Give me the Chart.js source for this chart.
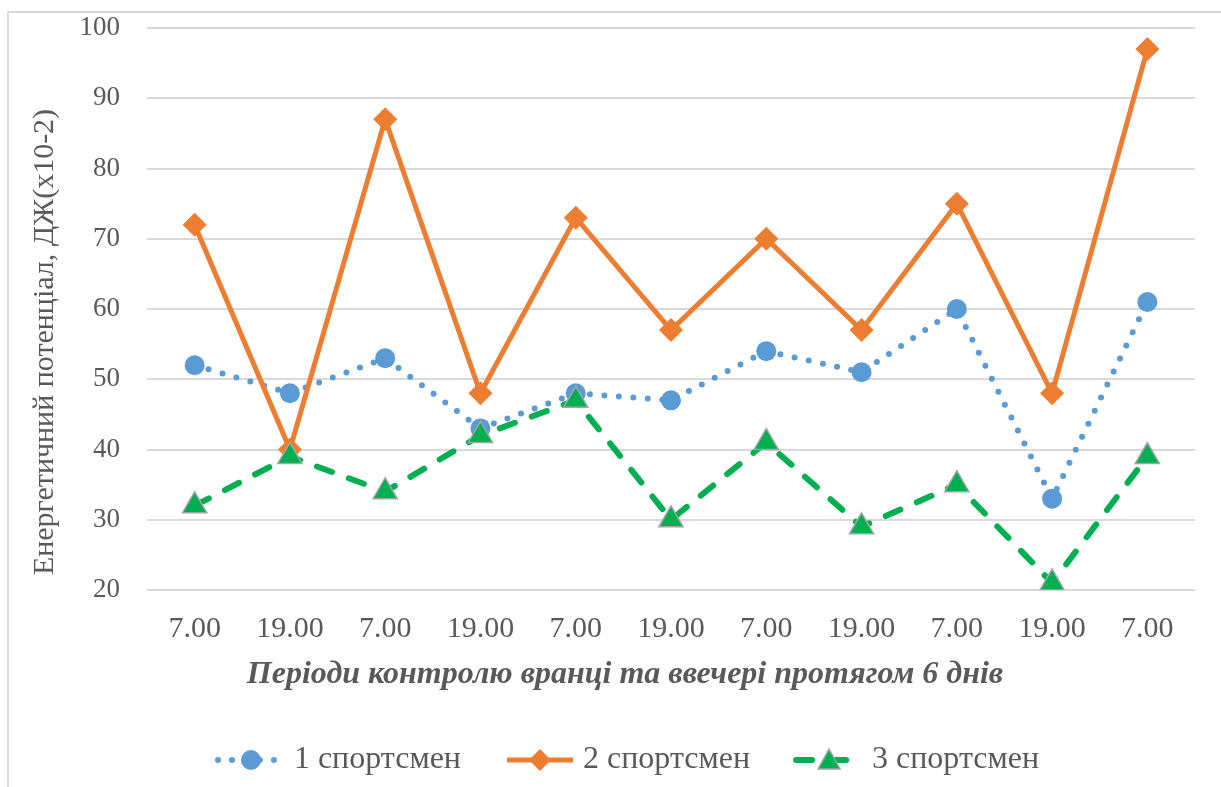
<!DOCTYPE html>
<html>
<head>
<meta charset="utf-8">
<script src="https://cdn.jsdelivr.net/npm/chart.js@4"></script>
<style>
  html, body { margin: 0; padding: 0; background: #fff; overflow: hidden; }
  #frame { position: absolute; left: 7px; top: 11px; width: 1400px; height: 900px; border: 2px solid #d9d9d9; }
  #wrap { position: absolute; left: 0; top: 0; width: 1221px; height: 787px; }
</style>
</head>
<body>
<div id="frame"></div>
<div id="wrap"><canvas id="chart"></canvas></div>
<script>
// data
const periods = ['7.00', '19.00', '7.00', '19.00', '7.00', '19.00', '7.00', '19.00', '7.00', '19.00', '7.00'];
const athlete1 = [52, 48, 53, 43, 48, 47, 54, 51, 60, 33, 61];
const athlete2 = [72, 40, 87, 48, 73, 57, 70, 57, 75, 48, 97];
const athlete3 = [32, 39, 34, 42, 47, 30, 41, 29, 35, 21, 39];
const seriesNames = ['1 спортсмен', '2 спортсмен', '3 спортсмен'];
const yMin = 20, yMax = 100, yStep = 10;
const yTitle = 'Енергетичний потенціал, ДЖ(х10-2)';
const xTitle = 'Періоди контролю вранці та ввечері протягом 6 днів';

const BLUE = '#5b9bd5', ORANGE = '#ed7d31', GREEN = '#00b050', GREY = '#595959';
const FONT = '"Liberation Serif", "Times New Roman", serif';

// legend samples: line + marker, drawn into a small canvas
function legendSample(kind) {
    const c = document.createElement('canvas')
    c.width = 114; c.height = 30
    const g = c.getContext('2d')
    const x0 = 42, x1 = 114, cy = 15, cx = (x0 + x1) / 2
    g.lineCap = 'round'
    g.beginPath()
    g.moveTo(x0 + 3, cy); g.lineTo(x1 - 3, cy)
    if (kind === 1) {
        g.strokeStyle = BLUE; g.lineWidth = 6; g.setLineDash([0, 14])
    } else if (kind === 2) {
        g.strokeStyle = ORANGE; g.lineWidth = 5; g.lineCap = 'butt'
    } else {
        g.strokeStyle = GREEN; g.lineWidth = 6; g.setLineDash([16, 18])
    }
    g.stroke()
    g.setLineDash([])
    g.beginPath()
    if (kind === 1) {
        g.fillStyle = BLUE
        g.arc(cx, cy, 10, 0, Math.PI * 2)
        g.fill()
    } else if (kind === 2) {
        g.fillStyle = ORANGE
        g.moveTo(cx, cy - 11); g.lineTo(cx + 11, cy); g.lineTo(cx, cy + 11); g.lineTo(cx - 11, cy)
        g.closePath(); g.fill()
    } else {
        g.fillStyle = GREEN; g.strokeStyle = '#a5a5a5'; g.lineWidth = 1.5
        g.moveTo(cx, cy - 11); g.lineTo(cx + 11, cy + 9); g.lineTo(cx - 11, cy + 9)
        g.closePath(); g.fill(); g.stroke()
    }
    return c
}
const samples = [legendSample(1), legendSample(2), legendSample(3)]

const axisTitles = {
    id: 'axisTitles',
    afterDraw(chart) {
        const ctx = chart.ctx
        ctx.save()
        ctx.fillStyle = GREY
        ctx.textAlign = 'center'
        ctx.textBaseline = 'middle'
        ctx.font = '30px ' + FONT
        ctx.translate(45, 342)
        ctx.rotate(-Math.PI / 2)
        ctx.fillText(yTitle, 0, 0)
        ctx.restore()

        ctx.save()
        ctx.fillStyle = GREY
        ctx.textAlign = 'center'
        ctx.textBaseline = 'middle'
        ctx.font = 'italic bold 32px ' + FONT
        ctx.fillText(xTitle, 625, 675)
        ctx.restore()
    }
}

const ctx = document.getElementById('chart').getContext('2d')
new Chart(ctx, {
    type: 'line',
    data: {
        labels: periods,
        datasets: [
            {
                label: seriesNames[0],
                data: athlete1,
                borderColor: BLUE,
                backgroundColor: BLUE,
                borderWidth: 6,
                borderDash: [0, 14.5],
                borderCapStyle: 'round',
                pointStyle: 'circle',
                pointRadius: 10,
                pointBorderWidth: 0,
                pointBackgroundColor: BLUE,
                tension: 0,
                order: 3
            },
            {
                label: seriesNames[1],
                data: athlete2,
                borderColor: ORANGE,
                backgroundColor: ORANGE,
                borderWidth: 5,
                pointStyle: 'rectRot',
                pointRadius: 12,
                pointBorderWidth: 0,
                pointBackgroundColor: ORANGE,
                tension: 0,
                order: 2
            },
            {
                label: seriesNames[2],
                data: athlete3,
                borderColor: GREEN,
                backgroundColor: GREEN,
                borderWidth: 6,
                borderDash: [16, 18],
                borderCapStyle: 'round',
                pointStyle: 'triangle',
                pointRadius: 14,
                pointBorderWidth: 1.5,
                pointBorderColor: '#a5a5a5',
                pointBackgroundColor: GREEN,
                tension: 0,
                order: 1
            }
        ]
    },
    options: {
        responsive: true,
        maintainAspectRatio: false,
        animation: false,
        layout: { padding: { left: 26, right: 26, top: 28, bottom: 1 } },
        scales: {
            x: {
                offset: true,
                grid: { display: false, drawTicks: false },
                border: { display: false },
                ticks: { color: GREY, padding: 21, font: { family: FONT, size: 30 } },
                afterFit: (scale) => { scale.height = 144 }
            },
            y: {
                min: yMin,
                max: yMax,
                // invisible tick marks push the labels left without adding top padding
                grid: { color: '#d9d9d9', lineWidth: 2, drawTicks: true, tickLength: 27, tickColor: 'rgba(0,0,0,0)' },
                border: { display: false },
                ticks: { stepSize: yStep, color: GREY, padding: 0, font: { family: FONT, size: 27 } },
                afterFit: (scale) => { scale.width = 121 }
            }
        },
        plugins: {
            tooltip: { enabled: false },
            legend: {
                position: 'bottom',
                labels: {
                    usePointStyle: true,
                    pointStyleWidth: 96,
                    padding: 10,
                    color: GREY,
                    font: { family: FONT, size: 32 },
                    generateLabels: (chart) => chart.data.datasets.map((ds, i) => ({
                        text: ds.label,
                        pointStyle: samples[i],
                        fillStyle: ds.borderColor,
                        strokeStyle: ds.borderColor,
                        lineWidth: 0,
                        fontColor: GREY,
                        hidden: false,
                        datasetIndex: i
                    }))
                }
            }
        }
    },
    plugins: [axisTitles]
})
</script>
</body>
</html>
